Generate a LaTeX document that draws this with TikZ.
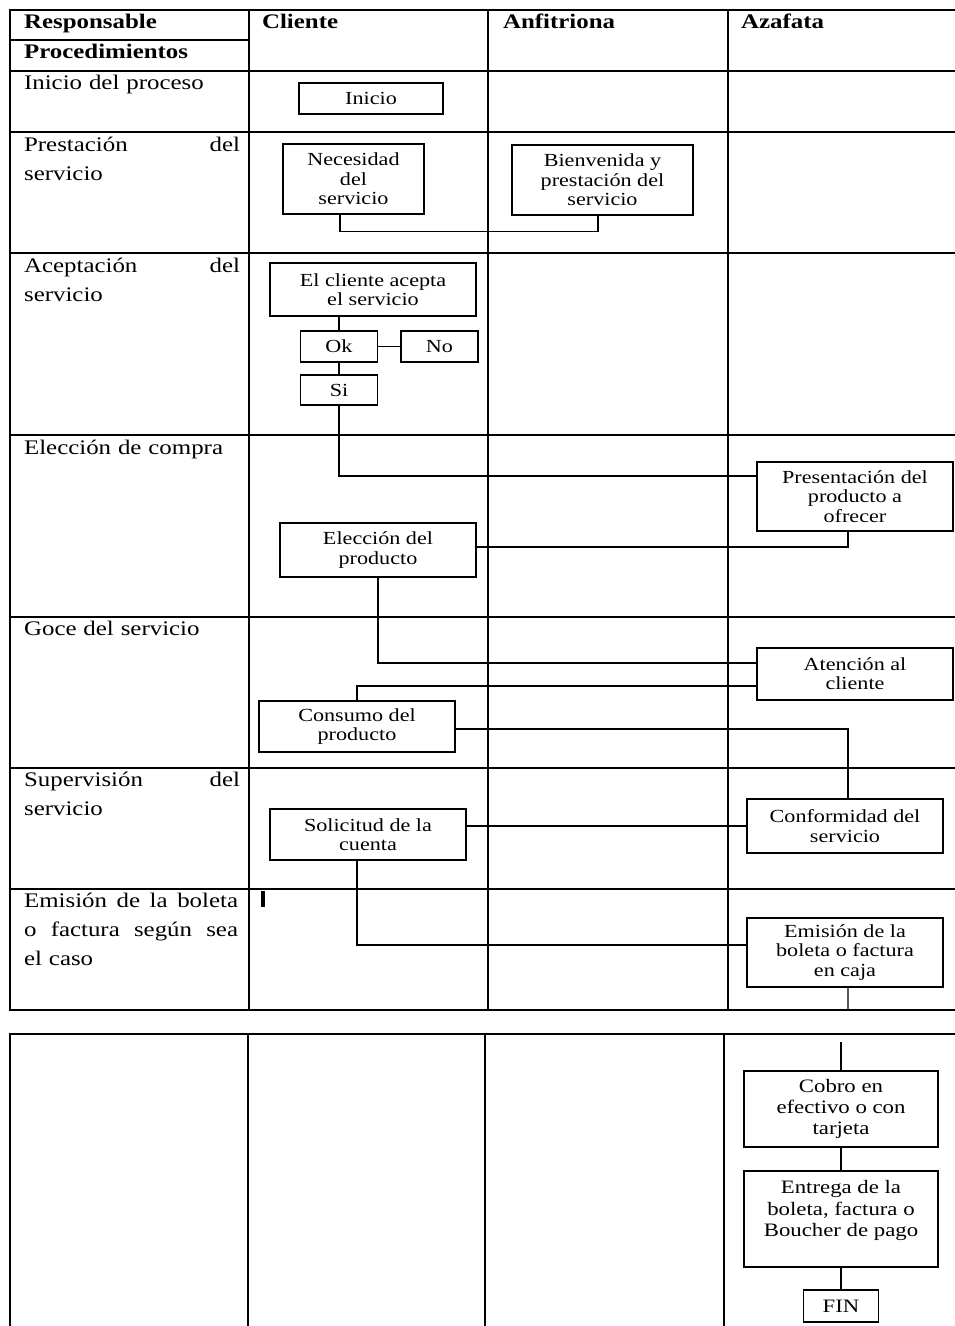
\documentclass[tikz,border=0pt]{standalone}
\usepackage{fontspec}
\setmainfont{Liberation Serif}[FakeStretch=1.2]

\begin{document}
\begin{tikzpicture}[
  x=0.02cm, y=-0.02cm,
  tabla/.style={line width=1.1pt, line cap=rect},
  linea/.style={line width=0.8pt},
  caja/.style={draw, line width=0.8pt, align=center, inner sep=1pt, font=\fontsize{10.5}{11}\selectfont},
  etiq/.style={anchor=north west, text width=4.32cm, align=left, inner sep=1pt, font=\fontsize{11.8}{16.4}\selectfont},
  cabeza/.style={anchor=north west, inner sep=1pt, font=\fontsize{11.8}{14}\selectfont\bfseries}
]
\useasboundingbox (0,0) rectangle (954,1326);

% tabla superior
\foreach \y in {10,71,132,253,435,617,768,889,1010}
  \draw[tabla] (10,\y) -- (954,\y);
\draw[tabla] (10,40) -- (249,40);
\foreach \x in {10,249,488,728}
  \draw[tabla] (\x,10) -- (\x,1010);
% tabla inferior
\draw[tabla] (10,1034) -- (954,1034);
\foreach \x in {10,248,485,724}
  \draw[tabla] (\x,1034) -- (\x,1326);

% encabezados
\node[cabeza] (resp) at (22,12) {Responsable};
\node[cabeza] (proc) at (22,42) {Procedimientos};
\node[cabeza] (cli) at (260,12) {Cliente};
\node[cabeza] (anf) at (501,12) {Anfitriona};
\node[cabeza] (aza) at (739,12) {Azafata};

% procedimientos
\node[etiq] (p1) at (22,73) {Inicio del proceso};
\node[etiq] (p2) at (22,135) {\makebox[4.32cm][l]{Prestación\hfill del}\\servicio};
\node[etiq] (p3) at (22,256) {\makebox[4.32cm][l]{Aceptación\hfill del}\\servicio};
\node[etiq] (p4) at (22,438) {Elección de compra};
\node[etiq] (p5) at (22,619) {Goce del servicio};
\node[etiq] (p6) at (22,770) {\makebox[4.32cm][l]{Supervisión\hfill del}\\servicio};
\node[etiq] (p7) at (22,891) {\makebox[4.28cm][l]{Emisión\hfill de\hfill la\hfill boleta}\\\makebox[4.28cm][l]{o\hfill factura\hfill según\hfill sea}\\el caso};

% marca
\draw[line width=2pt] (263,891) -- (263,907);

% cajas
\node[caja, minimum width=2.88cm, minimum height=0.62cm] (inicio) at (371,98.5) {Inicio};
\node[caja, minimum width=2.82cm, minimum height=1.40cm] (nec) at (353.5,179) {Necesidad\\del\\servicio};
\node[caja, minimum width=3.62cm, minimum height=1.40cm] (bien) at (602.5,180) {Bienvenida y\\prestación del\\servicio};
\node[caja, minimum width=4.12cm, minimum height=1.06cm] (acepta) at (373,289.5) {El cliente acepta\\el servicio};
\node[caja, minimum width=1.54cm, minimum height=0.62cm] (ok) at (339,346.5) {Ok};
\node[caja, minimum width=1.54cm, minimum height=0.62cm] (no) at (439.5,346.5) {No};
\node[caja, minimum width=1.54cm, minimum height=0.60cm] (si) at (339,390) {Si};
\node[caja, minimum width=3.92cm, minimum height=1.38cm] (pres) at (855,496.5) {Presentación del\\producto a\\ofrecer};
\node[caja, minimum width=3.92cm, minimum height=1.08cm] (elec) at (378,550) {Elección del\\producto};
\node[caja, minimum width=3.92cm, minimum height=1.04cm] (aten) at (855,674) {Atención al\\cliente};
\node[caja, minimum width=3.92cm, minimum height=1.02cm] (cons) at (357,726.5) {Consumo del\\producto};
\node[caja, minimum width=3.92cm, minimum height=1.08cm] (conf) at (845,826) {Conformidad del\\servicio};
\node[caja, minimum width=3.92cm, minimum height=1.02cm] (sol) at (368,834.5) {Solicitud de la\\cuenta};
\node[caja, minimum width=3.92cm, minimum height=1.38cm] (emi) at (845,952.5) {Emisión de la\\boleta o factura\\en caja};
\coordinate (corte) at (848,1010);
\coordinate (sigue) at (841,1042);
\node[caja, minimum width=3.88cm, minimum height=1.52cm, font=\fontsize{10.8}{12}\selectfont] (cobro) at (841,1109) {Cobro en\\efectivo o con\\tarjeta};
\node[caja, minimum width=3.88cm, minimum height=1.92cm, font=\fontsize{10.8}{12}\selectfont] (entrega) at (841,1219) {Entrega de la\\boleta, factura o\\Boucher de pago\\\mbox{}};
\node[caja, minimum width=1.50cm, minimum height=0.64cm, font=\fontsize{10.8}{12}\selectfont] (fin) at (841,1306) {FIN};

% conectores
\draw[linea] ([xshift=-0.27cm]nec.south) -- ++(0,17) -| ([xshift=-0.09cm]bien.south);
\draw[linea] (ok.north |- acepta.south) -- (ok.north);
\draw[linea] (ok.east) -- (no.west);
\draw[linea] (ok.south) -- (si.north);
\draw[linea] (si.south) |- ([yshift=0.41cm]pres.west);
\draw[linea] ([yshift=0.06cm]elec.east) -| ([xshift=-0.14cm]pres.south);
\draw[linea] (elec.south) |- ([yshift=0.22cm]aten.west);
\draw[linea] ([yshift=-0.24cm]aten.west) -| (cons.north);
\draw[linea] ([yshift=-0.05cm]cons.east) -| ([xshift=0.06cm]conf.north);
\draw[linea] (conf.west) -- (conf.west -| sol.east);
\draw[linea] ([xshift=-0.22cm]sol.south) |- ([yshift=0.15cm]emi.west);
\draw[linea] ([xshift=0.06cm]emi.south) -- (corte);
\draw[linea] (sigue) -- (cobro.north);
\draw[linea] (cobro.south) -- (entrega.north);
\draw[linea] (entrega.south) -- (fin.north);
\end{tikzpicture}
\end{document}
